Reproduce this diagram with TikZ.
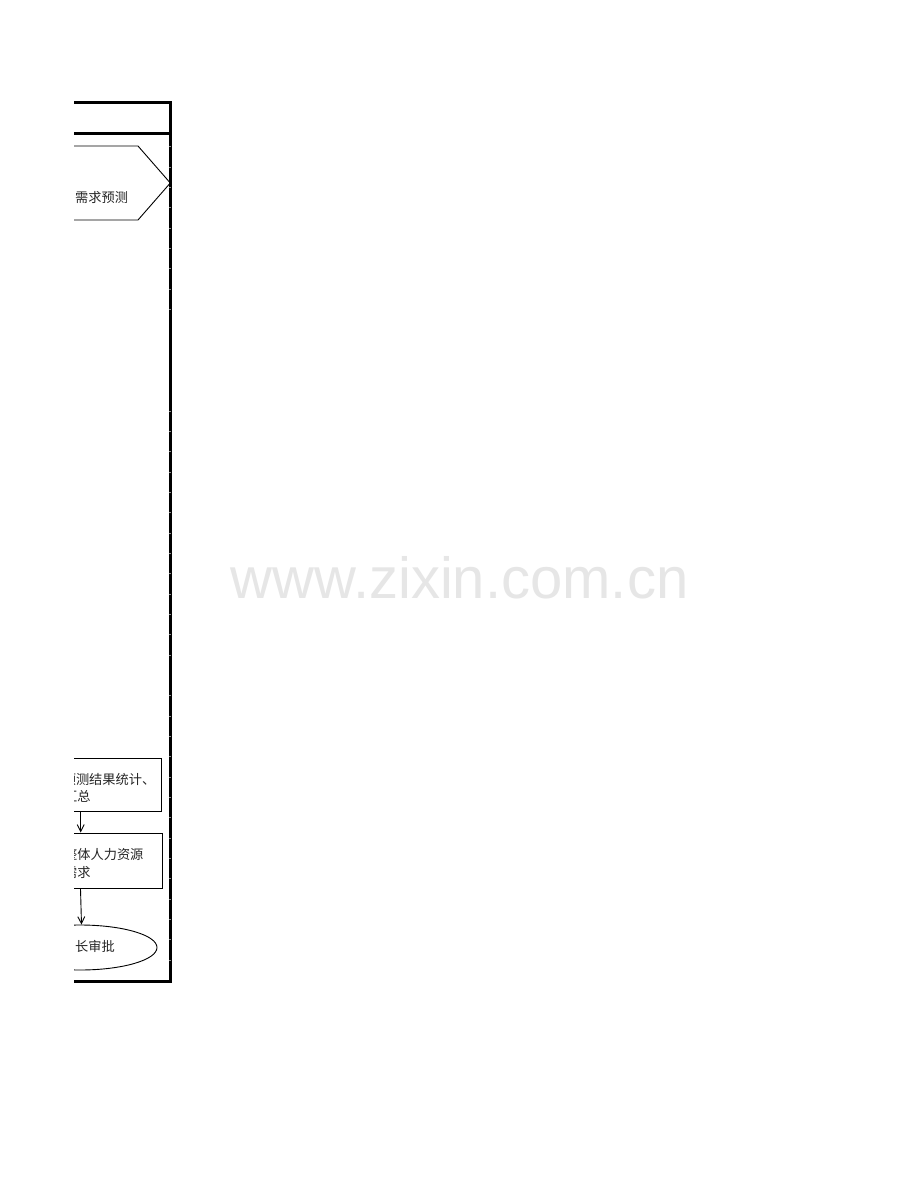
\documentclass[tikz,border=0pt]{standalone}
\usepackage{fontspec}
\setmainfont{Liberation Sans}
\newfontfamily\cjk{Noto Sans CJK SC}
\usetikzlibrary{shapes.geometric,arrows.meta}
\definecolor{wm}{HTML}{E6E6E6}
\definecolor{tick}{HTML}{909090}
\tikzset{
  thickline/.style={line width=3pt, line cap=rect},
  thinline/.style={line width=0.9pt, draw=black},
  boxshape/.style={thinline, rectangle, inner sep=0pt},
  ovalshape/.style={thinline, ellipse, inner sep=0pt},
  txt/.style={font=\cjk\fontsize{13.2}{16}\selectfont, inner sep=0pt, anchor=west, text=black!85},
  arr/.style={thinline, -{Straight Barb[length=7pt,width=7pt]}},
  gridtick/.style={draw=tick, line width=0.5pt},
  watermark/.style={font=\fontsize{58}{60}\selectfont, text=wm, inner sep=0pt}
}
\begin{document}
\begin{tikzpicture}[x=1pt,y=-1pt]
\useasboundingbox (0,0) rectangle (920,1191);
\fill[white] (0,0) rectangle (920,1191);
\node[watermark] (wmark) at (459.5,578) {www.zixin.com.cn};
\begin{scope}
\clip (74,0) rectangle (920,1191);
% frame lines
\coordinate (tl) at (20,102.7);
\coordinate (tr) at (170.3,102.7);
\coordinate (ml) at (20,133.3);
\coordinate (mr) at (170.3,133.3);
\coordinate (bl) at (20,981.5);
\coordinate (br) at (170.3,981.5);
\draw[thickline] (tl) -- (tr);
\draw[thickline] (ml) -- (mr);
\draw[thickline] (bl) -- (br);
\draw[thickline] (tr) -- (br);
% grid ticks on the right border
\foreach \k in {0,...,8,13,14,...,25,27,28,...,40} {
  \draw[gridtick] (168.8,146.7+20.33*\k) -- (170.6,146.7+20.33*\k);
}
% pentagon arrow shape
\coordinate (pa) at (20,146);
\coordinate (pb) at (138,146);
\coordinate (pc) at (170.3,183);
\coordinate (pd) at (138,220);
\coordinate (pe) at (20,220);
\draw[thinline] (pa) -- (pb) -- (pc) -- (pd) -- (pe);
\node[txt] (t0) at (75,198) {需求预测};
% box 1
\node[boxshape, minimum width=131.7pt, minimum height=53.7pt] (box1) at (96,784.85) {};
\node[txt] (t1a) at (62.6,779) {预测结果统计、};
\node[txt] (t1b) at (64,796) {汇总};
% box 2
\node[boxshape, minimum width=132pt, minimum height=55.3pt] (box2) at (96,860.65) {};
\node[txt] (t2a) at (64,854.5) {整体人力资源};
\node[txt] (t2b) at (64,872) {需求};
% ellipse
\node[ovalshape, minimum width=154pt, minimum height=45pt] (oval) at (80,947.5) {};
\node[txt] (t3) at (75,946) {长审批};
% connectors
\coordinate (c1) at (80.7,0);
\coordinate (c2) at (80.5,0);
\coordinate (c3) at (81.5,0);
\draw[arr] (c1 |- box1.south) -- (c1 |- box2.north);
\draw[arr] (c2 |- box2.south) -- (c3 |- oval.north);
\end{scope}
\end{tikzpicture}
\end{document}
